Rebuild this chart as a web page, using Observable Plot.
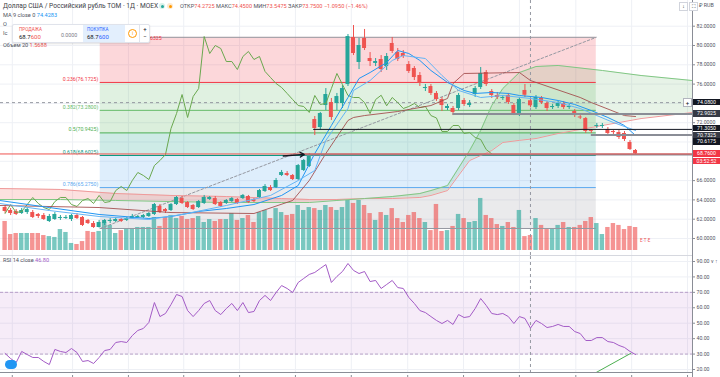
<!DOCTYPE html>
<html><head><meta charset="utf-8">
<script src="https://cdn.jsdelivr.net/npm/d3@7"></script>
<script src="https://cdn.jsdelivr.net/npm/@observablehq/plot@0.6"></script>
<style>
body{margin:0;background:#fff;font-family:Roboto,"Noto Sans",sans-serif;}
#wrap{position:relative;width:720px;height:377px;overflow:hidden;background:#fff}
#wrap svg{position:absolute;left:0;}
.t{position:absolute;white-space:nowrap;line-height:1;color:#50535e;font-size:6.5px;}
.badge{position:absolute;left:693px;width:27px;height:6.6px;font-size:5.2px;line-height:6.6px;color:#fff;text-align:center;}
</style></head><body><div id="wrap"></div><script>
// ---------- data ----------
const N = 115;
const bars = d3.range(N);
const opens = [63.21,62.90,62.80,62.59,62.69,62.69,62.49,62.38,61.76,61.97, 62.07,62.07,61.97,62.38,62.18,61.87,61.55,61.14,61.55,61.76, 61.76,61.97,61.87,62.07,62.18,62.18,62.28,62.49,63.32,63.00, 62.90,63.52,64.14,63.73,63.42,63.21,63.63,64.04,64.14,63.73, 63.63,63.83,64.04,64.14,64.35,64.04,64.25,64.87,65.28,65.28, 66.53,66.73,66.53,66.11,67.05,67.46,72.33,71.50,73.78,74.09, 73.99,73.99,75.96,80.83,78.24,80.73,78.65,78.14,78.55,77.82, 80.21,79.27,79.17,78.03,77.62,76.89,75.54,75.75,75.03,74.40, 73.47,73.47,73.47,74.30,73.78,74.92,75.65,77.20,75.23,74.82, 74.51,74.82,73.78,72.95,75.34,74.2725,73.57,74.51,73.99,73.57, 73.68,73.99,73.57,73.16,72.59,72.43,71.19,71.61,71.61,71.29, 71.09,70.98,70.88,69.95,69.12];
const highs = [63.42,63.11,63.00,63.11,63.21,62.90,62.59,62.59,62.49,62.69, 62.38,62.38,62.49,62.59,62.28,61.97,61.76,61.87,61.97,62.07, 62.18,62.07,62.18,62.49,62.38,62.49,62.69,63.63,63.52,63.11, 63.63,64.35,64.35,63.83,63.52,63.94,64.46,64.35,64.35,63.83, 64.04,64.25,64.14,64.56,64.46,64.14,65.08,65.59,65.49,66.22, 67.05,66.94,66.63,67.67,68.19,68.81,72.64,73.06,75.54,74.51, 75.03,75.85,81.14,82.07,80.73,81.66,79.27,78.65,78.96,79.17, 80.83,79.69,79.48,78.34,77.82,77.20,75.96,75.96,75.23,74.61, 73.89,73.68,75.03,74.51,74.30,75.75,77.72,77.41,75.44,75.13, 74.82,75.03,73.99,74.61,75.96,74.45,74.82,74.71,74.20,73.89, 74.20,74.20,73.89,73.37,72.74,72.54,71.29,71.92,71.92,71.50, 71.19,71.19,71.09,70.16,69.22];
const lows = [62.59,62.38,62.38,62.49,62.49,62.07,62.07,61.87,61.66,61.87, 61.87,61.97,61.76,61.97,61.24,61.45,61.04,61.08,61.35,61.55, 61.66,61.66,61.76,61.97,62.07,62.07,62.18,62.38,62.59,62.59, 62.80,63.42,63.52,63.11,62.90,63.11,63.52,63.94,63.42,63.21, 63.52,63.73,63.52,64.04,63.63,63.73,64.14,64.77,64.87,65.18, 66.42,66.42,66.01,66.01,66.94,67.35,70.67,71.29,73.26,72.23, 73.26,73.47,75.75,78.96,77.51,79.48,77.82,77.82,77.20,77.41, 79.17,78.34,78.65,77.10,76.37,75.75,75.23,74.82,74.20,73.16, 73.26,72.74,73.26,73.68,73.57,74.61,75.44,75.75,74.51,74.40, 74.30,73.89,72.74,72.64,74.61,73.5475,73.37,73.89,73.16,73.37, 73.47,73.37,73.37,72.54,72.33,70.88,70.88,71.40,71.40,70.67, 70.78,70.26,70.05,69.12,68.70];
const closes = [62.80,62.59,62.49,62.90,63.00,62.18,62.28,61.97,62.28,62.49, 62.18,62.18,62.38,62.07,61.35,61.55,61.14,61.66,61.87,61.87, 61.97,61.76,62.07,62.28,62.28,62.38,62.59,63.52,62.69,62.80, 63.52,64.25,63.63,63.21,63.00,63.83,64.25,64.25,63.52,63.32, 63.94,64.14,63.63,64.46,63.73,63.83,64.97,65.39,64.97,66.01, 66.84,66.53,66.11,67.56,68.08,68.70,71.40,72.95,74.92,72.54, 74.71,75.54,80.93,79.17,80.00,79.69,78.34,78.34,77.51,78.86, 79.38,78.55,78.86,77.31,76.68,76.06,75.65,75.03,74.40,73.78, 73.68,73.06,74.82,73.89,73.99,75.54,77.10,75.96,74.82,74.61, 74.61,74.09,72.95,74.40,74.845,73.75,74.61,74.09,73.47,73.68, 73.99,73.57,73.68,72.74,72.49,71.09,71.09,71.71,71.71,70.88, 70.98,70.47,70.26,69.22,68.76];
const volumes = [1.98,1.09,1.16,1.16,1.16,1.16,1.16,1.02,0.95,0.89, 1.43,1.23,0.48,0.41,0.61,1.30,1.23,1.30,1.91,1.71, 1.16,1.36,1.50,1.50,1.57,1.57,1.57,2.25,1.64,2.25, 2.39,2.18,2.32,2.11,2.18,2.32,1.91,2.11,1.98,2.11, 2.11,2.52,2.05,2.18,2.39,1.91,2.59,2.73,2.18,2.86, 2.59,2.39,2.46,3.07,2.73,2.93,2.86,2.73,3.07,2.93, 2.73,2.93,3.41,3.21,3.41,3.07,2.52,2.05,2.59,2.39, 2.86,2.18,1.91,2.39,2.59,2.18,1.91,1.36,3.14,1.30, 1.36,1.64,2.46,2.18,1.91,1.98,3.55,2.39,2.18,1.77, 1.64,1.91,1.57,2.73,0.95,1.02,2.18,1.71,1.43,1.50, 1.71,1.91,1.57,1.57,1.71,1.98,2.25,1.84,1.09,1.57, 1.84,1.71,1.43,1.64,1.5688];
const rsi = [30.4,27.1,24.5,31.7,29.7,27.8,27.8,25.2,23.2,33.0, 31.7,31.0,33.6,31.0,25.2,25.8,23.9,27.8,32.3,33.0, 37.5,38.1,37.5,42.0,45.3,46.6,50.5,63.4,54.3,56.3, 62.1,68.6,67.3,58.2,54.3,58.2,62.8,64.7,58.2,55.6, 59.5,62.8,58.2,63.4,56.9,57.6,64.7,68.0,64.7,69.9, 74.4,72.5,69.9,76.4,79.0,81.6,82.9,85.5,88.0,76.4, 80.3,83.5,88.7,84.2,82.2,83.5,77.0,77.7,72.5,75.1, 77.7,73.1,72.5,66.7,62.8,58.2,56.9,54.3,51.8,49.8, 51.8,49.2,55.6,53.7,54.3,59.5,66.0,61.5,56.3,55.6, 56.3,54.3,49.8,54.3,53.1,46.8,51.8,49.8,47.2,47.9, 49.2,47.9,47.9,44.6,43.3,38.8,38.8,40.7,40.7,38.1, 37.5,35.6,34.3,31.7,29.7];

// Ichimoku / MA lines (bar index -> price)
const cloudBars = [-1,10,20,30,40,50,55,60,65,70,75,77,80,84,86,88,90,93,96,100,108,115,124.3];
const spanA = [64.04,64.04,63.94,63.83,63.73,63.73,63.73,63.94,64.14,64.35,64.66,64.97,65.49,69.12,71.19,73.78,75.54,77.20,77.82,77.93,77.41,76.89,76.37];
const spanB = [65.18,65.08,64.66,64.46,64.35,64.14,64.04,64.04,64.14,64.14,64.25,64.46,64.97,68.08,68.60,69.12,69.95,70.17,70.36,70.88,71.71,72.43,73.06];
const kijunBars = [-1,17,30,45,52,55,58,62,63,65,71,77,80,81,83,93,95,104,106,112,114];
const kijun = [63.42,63.21,62.69,62.59,63.94,66.01,68.81,72.23,72.54,72.74,73.16,73.78,74.51,76.06,77.10,77.20,76.37,74.61,74.09,72.74,72.64];
const maBars = [-1,8,17,26,30,35,40,45,50,53,56,59,62,64,66,69,71,73,75,77,80,83,85,88,91,93,97,100,103,106,109,112,114];
const ma9 = [63.94,63.21,62.49,62.07,62.28,62.80,63.11,63.52,64.46,65.49,68.81,71.71,74.61,76.58,77.20,78.24,79.48,79.17,78.45,77.41,76.17,75.34,75.03,75.13,75.03,74.82,74.61,74.30,73.89,73.26,72.54,71.71,70.67];
const tenkanBars = [-1,8,17,26,32,40,48,53,56,58,62,63,66,70,72,76,79,82,86,90,95,100,104,107,110,114];
const tenkan = [63.63,62.90,62.28,61.97,62.49,63.42,64.46,66.01,67.05,70.17,73.47,75.34,76.37,78.45,78.96,78.65,76.89,75.34,74.61,74.82,74.51,74.09,73.47,72.74,72.02,71.19];
const chikouShift = 26;

// Fibonacci retracement
const fibRatios = [0,0.236,0.382,0.5,0.618,0.786,1];
const fibPrices = [80.8475,76.1725,73.2800,70.9425,68.6025,65.2750,61.0375];
const fibColors = ["#9598a1","#f23645","#66bb6a","#4caf50","#089981","#5aa9f0","#9598a1"];
const fibAnchorBars = [17.2,106.9];

// user drawn horizontal rays [startBar, price, colour, width]
const rayStart = [81, 55.8, 106, 54.3];
const rayPrice = [72.9025, 71.3050, 70.7325, 68.70];
const rayColor = ["#8a8d96","#131722","#8a8d96","#8a8d96"];
const rayWidth = [2, 1, 2, 2];
const arrowBars = [50.3, 54.1];
const arrowPrices = [68.55, 68.72];

const lastPrice = 68.76;
const crossBar = 95, crossPrice = 74.08;
const rsiTrendBars = [106.9, 113.1];
const rsiTrendVals = [18.1, 30.4];

const priceTicks = d3.range(60, 83, 2);
const rsiTicks = [20,30,40,50,60,70,80,90];
const timeGridBars = [1.3,12.2,22.3,32.3,42.4,52.5,62.6,72.8,82.9,93.0,103.2,113.3,123.4];

// ---------- build ----------
const UP = "#26a69a", DN = "#ef5350";
const candles = bars.map(i => ({i, o: opens[i], h: highs[i], l: lows[i], c: closes[i], v: volumes[i], col: closes[i] >= opens[i] ? UP : DN}));
const xDom = [-0.832, 124.3];
const font = "Roboto, 'Noto Sans', sans-serif";
const wrap = document.getElementById("wrap");
const place = (svg, top) => { svg.style.top = top + "px"; svg.style.background = "transparent"; wrap.appendChild(svg); return svg; };
const base = (h, ydom, extra) => Object.assign({width: 720, height: h, marginTop: 0, marginBottom: 0, marginLeft: 0, marginRight: 28,
  x: {domain: xDom, axis: null}, y: {domain: ydom, axis: null}, style: {fontFamily: font, background: "transparent"}}, extra || {});
const pDom = [58.238, 84.663];

const cloud = cloudBars.map((b, k) => ({b, a: spanA[k], s: spanB[k]}));
const fibBands = d3.range(1, 7).map(k => ({top: fibPrices[k-1], bottom: fibPrices[k], color: fibColors[k]}));
const fibLevels = fibRatios.map((r, k) => ({r, p: fibPrices[k], color: fibColors[k], label: `${r}(${fibPrices[k].toFixed(4)})`}));

// back layer
place(Plot.plot(base(255, pDom, {marks: [
  Plot.ruleY(priceTicks, {stroke: "#eef0f5"}),
  Plot.ruleX(timeGridBars, {stroke: "#eef0f5"}),
  Plot.rect(fibBands, {x1: () => fibAnchorBars[0], x2: () => fibAnchorBars[1], y1: "top", y2: "bottom", fill: "color", fillOpacity: 0.2}),
  Plot.area(cloud, {x1: "b", y1: "s", y2: d => Math.max(d.a, d.s), fill: "#43a047", fillOpacity: 0.13}),
  Plot.area(cloud, {x1: "b", y1: "a", y2: d => Math.max(d.a, d.s), fill: "#f44336", fillOpacity: 0.16})
]})), 0);

// volume layer
place(Plot.plot(base(255, [0, 10], {y: {domain: [0, 10], range: [250, 103.4], axis: null}, marks: [
  Plot.rect(candles, {x1: d => d.i - 0.4, x2: d => d.i + 0.4, y1: 0, y2: "v", fill: "col", fillOpacity: 0.62})
]})), 0);

// front layer
const front = place(Plot.plot(base(255, pDom, {marks: [
  Plot.ruleY(fibLevels, {x1: () => fibAnchorBars[0], x2: () => fibAnchorBars[1], y: "p", stroke: "color", strokeWidth: 1}),
  Plot.text(fibLevels.slice(1, 6), {x: () => fibAnchorBars[0], y: "p", text: "label", fill: "color", textAnchor: "end", dx: -2, dy: -3.5, fontSize: 5.2}),
  Plot.line([0, 1], {x: k => fibAnchorBars[k], y: k => fibPrices[6 - 6 * k], stroke: "#9598a1", strokeDasharray: "2.5,2", strokeWidth: 1}),
  Plot.ruleX([crossBar], {stroke: "#9598a1", strokeDasharray: "3,3"}),
  Plot.ruleY([crossPrice], {stroke: "#9598a1", strokeDasharray: "3,3"}),
  Plot.line(cloud, {x: "b", y: "s", stroke: "#ef9a9a", strokeWidth: 1}),
  Plot.line(cloud, {x: "b", y: "a", stroke: "#81c784", strokeWidth: 1}),
  Plot.ruleX(candles, {x: "i", y1: "l", y2: "h", stroke: "col", strokeWidth: 1}),
  Plot.rect(candles, {x1: d => d.i - 0.36, x2: d => d.i + 0.36, y1: "o", y2: "c", fill: "col"}),
  Plot.line(bars.filter(i => i + chikouShift < N), {x: i => i, y: i => closes[i + chikouShift], stroke: "#6aa84f", strokeWidth: 1}),
  Plot.line(kijunBars, {x: b => b, y: (b, k) => kijun[k], stroke: "#a14848", strokeWidth: 1, strokeOpacity: 0.85}),
  Plot.line(maBars, {x: b => b, y: (b, k) => ma9[k], stroke: "#2196f3", strokeWidth: 1}),
  Plot.line(tenkanBars, {x: b => b, y: (b, k) => tenkan[k], stroke: "#64b5f6", strokeWidth: 1}),
  Plot.ruleY(rayPrice, {x1: (p, k) => rayStart[k], x2: () => xDom[1], y: p => p, stroke: (p, k) => rayColor[k], strokeWidth: (p, k) => rayWidth[k]}),
  Plot.ruleY([lastPrice], {stroke: DN, strokeWidth: 1}),
  Plot.arrow([0], {x1: () => arrowBars[0], y1: () => arrowPrices[0], x2: () => arrowBars[1], y2: () => arrowPrices[1], stroke: "#131722", strokeWidth: 1.4, headLength: 5}),
  Plot.axisY(priceTicks, {anchor: "right", tickFormat: d => d.toFixed(4), fontSize: 5.2, tickSize: 2, tickPadding: 2, stroke: "#8a8d96", fill: "#50535e"})
]})), 0);

// RSI pane
const rsiPts = bars.map(i => ({i, v: rsi[i]}));
place(Plot.plot(base(116, [18.06, 93.23], {marks: [
  Plot.ruleY(rsiTicks, {stroke: "#eef0f5"}),
  Plot.ruleX(timeGridBars, {stroke: "#eef0f5"}),
  Plot.rect([0], {y1: () => 30, y2: () => 70, fill: "#9c27b0", fillOpacity: 0.09}),
  Plot.ruleY([30, 70], {stroke: "#b9a0c9", strokeDasharray: "3,2"}),
  Plot.ruleX([crossBar], {stroke: "#9598a1", strokeDasharray: "3,3"}),
  Plot.line(rsiPts, {x: "i", y: "v", stroke: "#a35bc6", strokeWidth: 1}),
  Plot.line([0, 1], {x: k => rsiTrendBars[k], y: k => rsiTrendVals[k], stroke: "#4caf50", strokeWidth: 1}),
  Plot.axisY(rsiTicks, {anchor: "right", tickFormat: d => d.toFixed(2), fontSize: 5.2, tickSize: 2, tickPadding: 2, stroke: "#8a8d96", fill: "#50535e"})
]})), 256);

// time axis ticks strip
place(Plot.plot(base(5, [0, 1], {marks: [
  Plot.tickX(timeGridBars, {x: d => d, y: () => 1, stroke: "#8a8d96"})
]})), 372);

// ---------- html overlays ----------
function div(css, html, cls) { const e = document.createElement("div"); if (cls) e.className = cls; e.style.cssText = css; e.innerHTML = html || ""; wrap.appendChild(e); return e; }
div("position:absolute;left:692px;top:0;width:1px;height:377px;background:#8a8d96");
div("position:absolute;left:0;top:255px;width:692px;height:1px;background:#d6d8df");
div("position:absolute;left:0;top:372px;width:692px;height:1px;background:#8a8d96");

const ys = front.scale("y");
// header
div("left:3px;top:3px;font-size:6.6px;color:#3a3d46", "Доллар США / Российский рубль TOM · 1Д · MOEX", "t");
div("position:absolute;left:159px;top:3px;width:6px;height:6px;border-radius:3px;background:#d8f1e9", "<div style='margin:1.5px;width:3px;height:3px;border-radius:2px;background:#26a69a'></div>");
div("position:absolute;left:167px;top:3px;width:6px;height:6px;border-radius:3px;background:#fde9cf", "<div style='margin:1.5px;width:3px;height:3px;border-radius:2px;background:#ff9800'></div>");
const ohlcTxt = [["ОТКР","74.2725"],["МАКС","74.4500"],["МИН","73.5475"],["ЗАКР","73.7500"]].map(([a,b]) => `<span style="color:#50535e">${a}</span><span style="color:#ef5350">${b}</span>`).join(" ") + ` <span style="color:#ef5350">−1.0950 (−1.46%)</span>`;
div("left:180px;top:3.5px;font-size:5.6px", ohlcTxt, "t");
div("left:3px;top:13px;font-size:5.6px", `MA 9 close 0 <span style="color:#2196f3">74.4283</span>`, "t");
div("left:3px;top:22px;font-size:5.6px", "O", "t");
div("left:3px;top:31px;font-size:5.6px", "Ic", "t");
div("left:3px;top:43px;font-size:5.6px", `Объем 20 <span style="color:#ef5350">1.5688</span>`, "t");
div("left:3px;top:258px;font-size:5.6px", `RSI 14 close <span style="color:#a35bc6">46.80</span>`, "t");
div(`left:150px;top:${ys.apply(80.6325) - 3}px;font-size:5.2px;color:#f23645`, "6325", "t");
// buy / sell widget
const w = div("position:absolute;left:12px;top:24px;width:136px;height:17px;background:#fff;border:1px solid #e0e3eb;border-radius:2px;box-shadow:0 1px 2px rgba(0,0,0,.12)");
w.innerHTML = `
<div style="position:absolute;left:0;top:0;width:46px;height:17px;">
 <div class="t" style="left:6px;top:2.5px;font-size:4.6px;color:#ef5350">ПРОДАЖА</div>
 <div class="t" style="left:6px;top:9px;font-size:6px;color:#131722">68.7<span style="color:#ef5350">600</span></div></div>
<div class="t" style="left:48px;top:7.5px;font-size:5.3px;color:#787b86">0.0000</div>
<div style="position:absolute;left:70px;top:0;width:42px;height:17px;background:#e3effd">
 <div class="t" style="left:4px;top:2.5px;font-size:4.6px;color:#2962ff">ПОКУПКА</div>
 <div class="t" style="left:4px;top:9px;font-size:6px;color:#131722">68.7<span style="color:#2962ff">600</span></div></div>
<div style="position:absolute;left:115px;top:4px;width:7px;height:7px;border:1px solid #ff9800;border-radius:5px;font-size:5px;line-height:7px;text-align:center;color:#ff9800">i</div>
<div style="position:absolute;left:126px;top:0;width:10px;height:17px;border-left:1px solid #e0e3eb;font-size:6px;line-height:8px;text-align:center;color:#131722">+<br>−</div>`;

// top-right icons
div("position:absolute;left:679px;top:2px;width:7px;height:7px;border:1px solid #d1d4dc;font-size:5px;line-height:7px;text-align:center;color:#131722;background:#fff", "↓");
div("position:absolute;left:689px;top:2px;width:7px;height:7px;border:1px solid #d1d4dc;font-size:5px;line-height:7px;text-align:center;color:#131722;background:#fff", "⛶");
div("left:699px;top:3px;font-size:5.3px;color:#50535e", "₽ RUB", "t");

// axis badges
const badges = [
  {p: 74.08, t: "74.0800", bg: "#131722", dy: 0},
  {p: 72.9025, t: "72.9025", bg: "#363a45", dy: 0},
  {p: 71.3050, t: "71.3050", bg: "#131722", dy: -0.8},
  {p: 70.7325, t: "70.7325", bg: "#363a45", dy: 0.4},
  {p: 70.6175, t: "70.6175", bg: "#131722", dy: 6.2},
  {p: 68.76, t: "68.7600", bg: "#f23645", dy: 0},
  {p: 68.76, t: "03:52:52", bg: "#f23645", dy: 7.6}
];
for (const b of badges) div(`top:${ys.apply(b.p) - 3.3 + b.dy}px;background:${b.bg}`, b.t, "badge");
div(`position:absolute;left:683px;top:${ys.apply(crossPrice) - 4}px;width:7px;height:7px;border:1px solid #b2b5be;background:#fff;font-size:6px;line-height:7px;text-align:center;color:#131722`, "+");

// small markers / icons
div("position:absolute;left:640px;top:238px;font-size:4.5px;color:#ef5350;white-space:nowrap", "E<span style='color:#2962ff'>·</span>T<span style='color:#2962ff'>·</span>E");
div("position:absolute;left:5px;top:360px;width:12px;height:9px;border-radius:5px;background:#2196f3");
</script></body></html>
